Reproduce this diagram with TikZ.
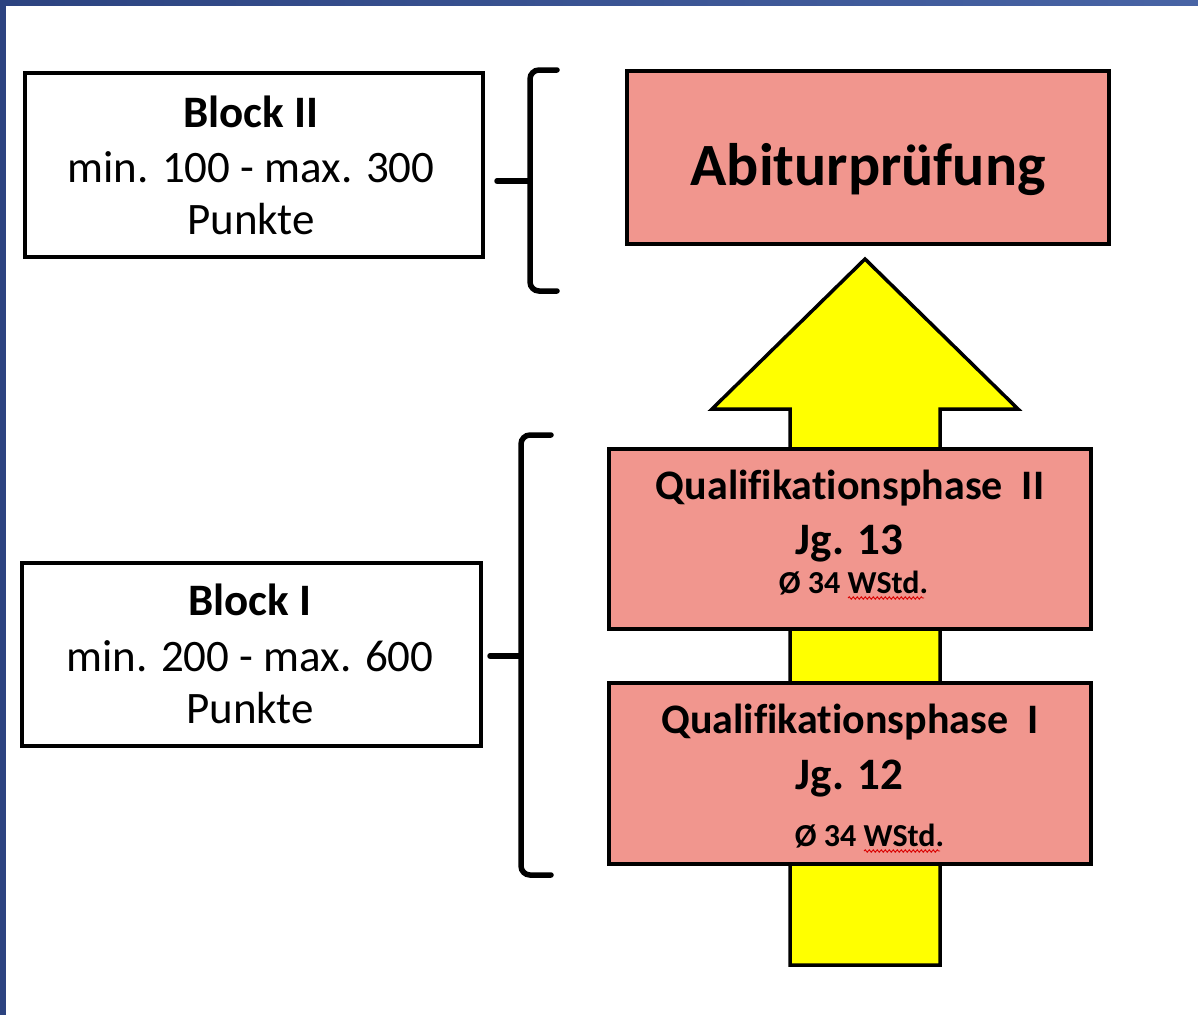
\documentclass[tikz,border=0pt]{standalone}
\usepackage{fontspec}
\setmainfont[Ligatures={TeX,NoCommon}]{Carlito}
\usetikzlibrary{decorations.pathmorphing}
\definecolor{salmon}{RGB}{241,150,142}
\definecolor{slideblueA}{RGB}{44,67,128}
\definecolor{slideblueB}{RGB}{72,100,165}
\definecolor{arrowyellow}{RGB}{255,255,0}
\tikzset{
  boxwhite/.style={draw=black, fill=white, line width=4pt, inner sep=0pt, outer sep=0pt},
  boxred/.style={draw=black, fill=salmon, line width=4pt, inner sep=0pt, outer sep=0pt},
  txt/.style={inner sep=0pt, anchor=base, text=black},
  bigtxt/.style={txt, font=\fontsize{45}{54}\selectfont},
  qtxt/.style={txt, font=\fontsize{42}{50}\selectfont\bfseries},
  jgtxt/.style={txt, font=\fontsize{45}{54}\selectfont\bfseries},
  wtxt/.style={txt, font=\fontsize{32}{38}\selectfont\bfseries},
  brace/.style={draw=black, line width=5.5pt, rounded corners=9pt, line cap=round},
  wavy/.style={draw=red!85!black, line width=0.9pt, decorate, decoration={snake, amplitude=1.2pt, segment length=4pt}}
}
\begin{document}
\begin{tikzpicture}[x=1pt, y=-1pt]
\useasboundingbox (0,0) rectangle (1198,1015);
\fill[white] (0,0) rectangle (1198,1015);
% slide edge
\fill[slideblueA] (0,0) rectangle (6,1015);
\shade[left color=slideblueA, right color=slideblueB] (0,0) rectangle (1198,5);

% yellow arrow
\draw[fill=arrowyellow, line width=3.5pt, line join=miter]
  (865,259) -- (1018,409) -- (940,409) -- (940,965) -- (790,965) -- (790,409) -- (712,409) -- cycle;

% boxes
\node[boxwhite, minimum width=458pt, minimum height=184pt] (b2) at (254,165) {};
\node[boxwhite, minimum width=459pt, minimum height=183pt] (b1) at (251.5,654.5) {};
\node[boxred, minimum width=482pt, minimum height=173pt] (abi) at (868,157.5) {};
\node[boxred, minimum width=482pt, minimum height=180pt] (q2) at (850,539) {};
\node[boxred, minimum width=482pt, minimum height=181pt] (q1) at (850,773.5) {};

% Block II text
\node[bigtxt, font=\fontsize{45}{54}\selectfont\bfseries] (b2t1) at (251,127) {Block II};
\node[bigtxt] (b2t2) at (251,182) {min. 100 - max. 300};
\node[bigtxt] (b2t3) at (251,234) {Punkte};

% Block I text
\node[bigtxt, font=\fontsize{45}{54}\selectfont\bfseries] (b1t1) at (250,615) {Block I};
\node[bigtxt] (b1t2) at (250,671) {min. 200 - max. 600};
\node[bigtxt] (b1t3) at (250,723) {Punkte};

% Abitur
\node[txt, font=\fontsize{60}{72}\selectfont\bfseries] (abit) at (868,185) {Abiturprüfung};

% Q II
\node[qtxt] (q2t1) at (850,499) {Qualifikationsphase\ \ II};
\node[jgtxt] (q2t2) at (849.5,554) {Jg. 13};
\node[wtxt] (q2t3) at (853.5,593) {Ø 34 WStd.};
\draw[wavy] (848,598) -- (924,598);

% Q I
\node[qtxt] (q1t1) at (850,733) {Qualifikationsphase\ \ I};
\node[jgtxt] (q1t2) at (849.5,789) {Jg. 12};
\node[wtxt] (q1t3) at (869.5,846) {Ø 34 WStd.};
\draw[wavy] (864,851) -- (940,851);

% braces
\coordinate (br2tip) at (497,181);
\coordinate (br1tip) at (490,656);
\draw[brace] (557,70) -- (530,70) -- (530,291) -- (557,291);
\draw[brace] (br2tip) -- (530,181);
\draw[brace] (551,435) -- (521,435) -- (521,875) -- (551,875);
\draw[brace] (br1tip) -- (521,656);
\end{tikzpicture}
\end{document}
